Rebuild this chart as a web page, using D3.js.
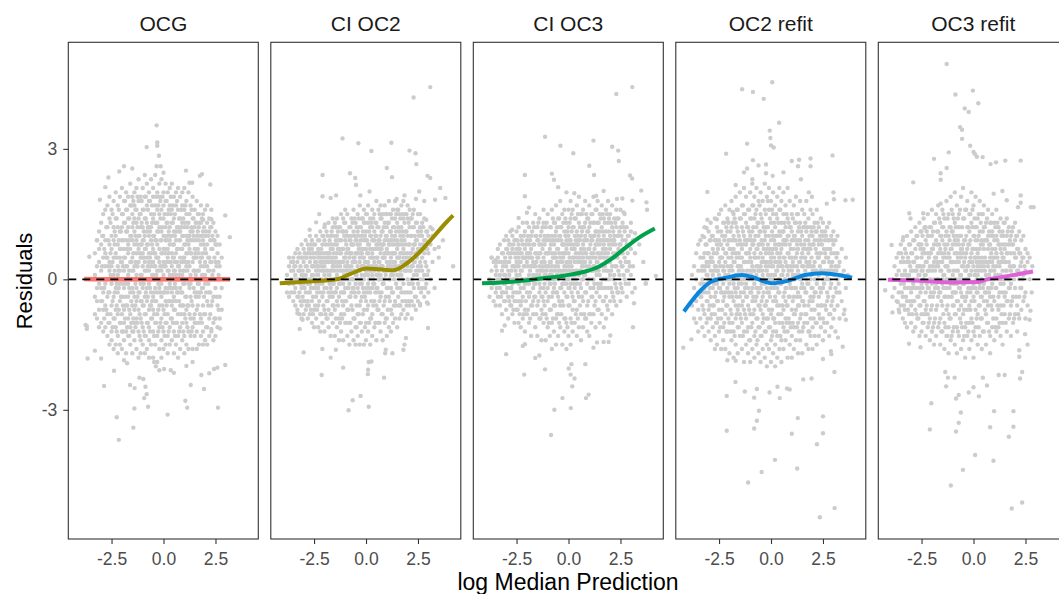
<!DOCTYPE html>
<html>
<head>
<meta charset="utf-8">
<script src="https://cdn.jsdelivr.net/npm/d3@7"></script>
<style>
  html, body { margin: 0; padding: 0; background: #fff; }
  svg { display: block; font-family: "Liberation Sans", Arial, Helvetica, sans-serif; }
</style>
</head>
<body>
<svg id="chart" width="1059" height="594"></svg>
<script>
// ---------------- DATA ----------------
const categories = ["OCG", "CI OC2", "CI OC3", "OC2 refit", "OC3 refit"];
const lineColors = ["#F8766D", "#9A8E00", "#00A14B", "#0A86DE", "#E062D8"];
const xTickValues = [-2.5, 0, 2.5];
const xTickLabels = ["-2.5", "0.0", "2.5"];
const yTickValues = [-3, 0, 3];
const yTickLabels = ["-3", "0", "3"];
const xTitle = "log Median Prediction";
const yTitle = "Residuals";

// dense cloud: [x, [residuals at that x]]
const ocgCols = [
[-3.3,[0.6,-0.4,0.1,-0.8]],[-3.2,[0.9,-0.2,0.3,-0.9,-0.5]],[-3.1,[1.1,0.4,-0.1,-0.7,0.7,-1.1]],
[-3.0,[1.3,0.2,-0.5,0.8,-1.0,-0.2]],[-2.9,[1.0,-0.3,0.5,-1.2,1.5,0.0,-0.7]],[-2.8,[1.6,0.3,-0.6,0.9,-1.1,-0.1,0.6]],
[-2.7,[1.2,-0.4,0.0,1.7,-1.3,0.5,-0.8]],[-2.6,[0.8,-1.0,1.4,0.2,-0.3,-1.5,0.4,1.9]],[-2.5,[1.6,-0.6,0.3,-1.2,1.0,-0.1,0.7,-1.4]],
[-2.4,[0.5,1.8,-0.9,0.1,-0.4,1.2,-1.6,0.9]],[-2.3,[1.4,-0.2,0.6,-1.1,2.0,0.0,-0.7,1.0,-1.5]],[-2.2,[0.3,-0.8,1.7,-0.3,0.8,-1.3,1.2,0.1,-1.7]],
[-2.1,[1.9,0.5,-0.5,1.1,-1.0,0.2,-1.5,0.7,-0.1]],[-2.0,[0.9,-0.4,1.5,0.0,-1.2,2.1,0.4,-0.8,1.2,-1.6]],[-1.9,[0.2,1.3,-0.7,0.7,-1.4,1.8,-0.2,0.5,-1.0]],
[-1.8,[1.6,-0.1,0.9,-1.2,0.3,-0.6,2.0,1.1,-1.7,0.0]],[-1.7,[0.6,-0.9,1.4,0.1,-0.4,1.9,-1.3,0.8,-0.1,1.2]],[-1.6,[1.0,-0.3,0.4,-1.5,1.7,-0.8,0.0,2.2,0.7,-1.1]],
[-1.5,[0.2,1.5,-0.6,0.9,-1.2,0.5,-0.2,1.9,-1.7,1.2,0.0]],[-1.4,[1.1,-1.0,0.3,1.7,-0.4,0.8,-1.4,2.0,0.0,-0.7,1.4]],[-1.3,[0.6,-0.2,1.3,-0.9,0.1,2.1,-1.6,0.9,-0.5,1.6,0.3]],
[-1.2,[1.8,0.4,-0.7,1.0,-1.2,0.0,0.7,-0.3,1.4,-1.8,2.3]],[-1.1,[0.1,1.2,-0.5,0.8,-1.4,1.9,-0.1,0.5,-0.9,1.5,-1.7]],[-1.0,[0.9,-0.2,1.6,-1.1,0.3,2.1,-0.6,1.2,-1.5,0.6,0.0]],
[-0.9,[1.4,0.2,-0.8,0.7,-1.3,1.9,-0.4,1.0,0.4,-1.7,2.4]],[-0.8,[0.5,-0.5,1.1,-1.0,0.0,1.7,-1.6,0.8,-0.2,2.2,1.3]],[-0.7,[1.2,-0.1,0.6,-1.4,1.8,0.2,-0.7,1.0,-1.1,0.4,2.0,-1.8]],
[-0.6,[0.3,1.5,-0.9,0.9,-0.3,2.3,-1.5,0.6,1.2,-0.6,0.0]],[-0.5,[1.0,-0.4,1.9,0.4,-1.2,0.7,-0.7,1.4,-1.8,0.1,2.1]],[-0.4,[0.6,-1.0,1.3,0.0,2.4,-0.5,0.9,-1.5,1.7,0.3,-0.2]],
[-0.3,[1.6,0.2,-0.8,1.1,-1.3,0.5,2.0,-0.3,0.8,-1.9,1.3]],[-0.2,[0.0,1.2,-0.6,0.7,-1.1,1.9,0.4,-1.6,1.5,-0.2,2.2]],[-0.1,[0.9,-0.4,1.6,0.2,-1.4,0.6,-0.9,2.3,1.1,-0.1,-1.8]],
[0.0,[0.4,1.4,-0.7,1.0,-1.2,0.1,2.0,-0.3,0.7,-1.6,1.7]],[0.1,[1.2,-0.2,0.6,-1.0,1.8,0.0,-1.5,0.9,2.2,-0.5,0.3]],[0.2,[0.7,-0.8,1.5,0.2,-1.3,1.0,-0.3,2.0,0.5,-1.7,1.3]],
[0.3,[1.7,0.1,-0.5,0.8,-1.1,1.2,-0.1,0.4,-1.5,2.1,0.9]],[0.4,[0.3,1.0,-0.9,1.6,-0.3,0.6,-1.4,2.2,0.0,1.3,-0.6]],[0.5,[1.4,-0.2,0.8,-1.2,0.2,1.9,-0.7,0.5,-1.7,1.1,-0.4]],
[0.6,[0.6,1.7,-0.5,1.1,-1.0,0.1,2.0,-1.5,0.9,-0.2,0.4]],[0.7,[1.2,-0.8,0.3,1.6,-0.3,0.7,-1.3,2.1,0.0,-1.8]],[0.8,[0.5,1.4,-0.6,0.9,-1.1,1.9,0.2,-0.2,-1.6,1.1]],
[0.9,[1.0,-0.3,1.7,0.4,-1.0,0.7,-1.4,2.0,-0.6,0.1,1.3]],[1.0,[0.2,1.2,-0.8,0.8,-1.3,1.6,-0.1,0.5,-1.7,2.1]],[1.1,[1.5,-0.4,0.6,-1.0,1.0,0.0,-1.5,1.8,0.3,-0.7]],
[1.2,[0.8,-0.1,1.3,-1.2,0.4,2.0,-0.6,1.0,-1.6]],[1.3,[1.1,0.1,-0.9,1.7,-0.4,0.6,-1.3,0.9,-0.1]],[1.4,[0.4,1.4,-0.6,0.9,-1.1,1.9,0.0,-1.6,1.1]],
[1.5,[1.2,-0.3,0.7,-1.3,1.6,0.2,-0.8,0.5,-1.0]],[1.6,[0.0,1.0,-0.7,1.8,0.5,-1.2,1.3,-0.3,-1.6]],[1.7,[0.9,-0.4,1.5,0.2,-1.0,0.6,-1.5,1.2,-0.1]],
[1.8,[1.3,0.3,-0.9,0.8,-0.3,1.7,-1.3,0.0,0.5]],[1.9,[0.6,-0.6,1.1,-1.2,0.1,1.5,-0.2,0.9,-1.5]],[2.0,[1.0,-0.1,0.4,-0.8,1.6,-1.4,0.7,0.1]],
[2.1,[0.3,1.3,-0.5,0.8,-1.1,0.0,1.7,-1.5]],[2.2,[1.1,-0.3,0.5,-0.9,1.4,0.2,-1.3]],[2.3,[0.7,-0.6,1.2,0.0,-1.2,0.4,1.6]],
[2.4,[0.2,-0.4,0.9,-1.0,1.3,-1.4]],[2.5,[0.8,-0.2,0.4,-0.9,1.1,-1.3]],[2.6,[0.0,0.6,-0.6,1.0,-1.1]],
[2.7,[0.3,-0.4,0.8,-0.9]],[2.8,[-0.2,0.5,-0.7]]
];
const ocgFill = [
[-2.95,[0.3,-0.5,1.0]],[-2.85,[-0.2,0.7,-0.9]],[-2.75,[0.5,-0.7,1.2,0.0]],[-2.65,[-0.3,0.9,0.3,-1.0]],[-2.55,[1.3,0.1,-0.8,0.6]],[-2.45,[-0.5,0.4,1.5,-1.1,0.0]],[-2.35,[0.8,-0.3,1.1,-0.9,0.2]],[-2.25,[-0.1,1.4,0.5,-1.2,-0.6]],[-2.15,[0.9,-0.7,0.2,1.6,-0.2]],[-2.05,[0.4,-1.0,1.1,-0.4,0.7]],
[-1.95,[1.5,-0.1,0.9,-1.2,0.3,-0.6]],[-1.85,[0.5,-0.9,1.3,0.0,-0.4,1.8]],[-1.75,[-0.6,0.3,1.1,-1.1,0.7,1.6]],[-1.65,[0.9,-0.2,1.4,-0.7,0.2,-1.3]],[-1.55,[0.4,1.7,-0.5,1.0,-1.0,0.0]],[-1.45,[-0.3,0.6,1.3,-0.9,0.2,1.8,-1.2]],[-1.35,[1.0,-0.6,0.4,1.6,-0.1,-1.1]],[-1.25,[0.3,1.2,-0.4,0.8,-1.0,1.9,0.0]],[-1.15,[-0.8,0.6,1.5,0.0,-0.3,1.0,-1.3]],[-1.05,[0.5,-0.5,1.3,0.1,1.8,-1.0,0.8]],
[-0.95,[1.1,-0.1,0.5,-1.2,0.9,-0.6,1.6]],[-0.85,[0.2,1.4,-0.8,0.7,-0.3,1.9,-1.3]],[-0.75,[0.8,-0.4,1.6,0.3,-1.0,1.2,0.0]],[-0.65,[-0.2,0.5,1.1,-1.2,1.8,0.0,-0.6]],[-0.55,[1.3,0.1,-0.5,0.8,-0.9,1.7,0.4]],[-0.45,[0.3,1.5,-0.8,1.0,-0.3,0.6,-1.3]],[-0.35,[0.9,-0.5,1.9,0.1,-1.0,1.3,0.5]],[-0.25,[-0.1,1.1,0.5,-0.7,1.7,-1.2,0.2]],[-0.15,[1.4,0.3,-0.3,0.9,-1.0,1.8,0.0]],[-0.05,[0.6,-0.6,1.2,0.0,1.9,-1.1,0.3]],
[0.05,[1.0,-0.3,0.3,1.5,-0.8,0.7,-1.3]],[0.15,[0.0,1.3,-0.6,0.9,-1.0,1.8,0.4]],[0.25,[1.1,-0.2,0.6,-1.2,1.6,0.2,-0.5]],[0.35,[0.4,1.5,-0.9,1.0,-0.2,0.0,1.9]],[0.45,[0.8,-0.5,1.3,0.1,-1.0,1.7,0.5]],[0.55,[-0.1,1.0,0.4,-0.7,1.5,-1.3,0.2]],[0.65,[1.2,-0.3,0.7,-1.0,1.8,0.0,0.4]],[0.75,[0.3,1.4,-0.5,0.9,-1.2,0.1,1.1]],[0.85,[0.7,-0.8,1.2,0.0,1.6,-0.3,0.4]],[0.95,[1.0,-0.1,0.5,-1.2,1.4,0.2,-0.6]],
[1.05,[0.4,1.3,-0.4,0.8,-0.9,1.7,0.0]],[1.15,[0.9,-0.6,1.2,0.2,-1.1,0.6]],[1.25,[-0.2,0.7,1.5,-0.8,0.3,1.0]],[1.35,[1.2,0.0,-0.5,0.6,-1.2,1.6]],[1.45,[0.5,-0.9,1.0,-0.2,0.2,1.4]],[1.55,[0.9,-0.4,1.3,0.1,-1.0,0.6]],[1.65,[0.2,1.1,-0.6,0.7,-0.1,1.5]],[1.75,[1.0,-0.8,0.4,1.3,-0.3]],[1.85,[0.5,-0.2,1.0,-1.0,0.1,1.4]],[1.95,[-0.4,0.8,0.3,1.2,-0.8]],
[2.05,[0.6,-0.3,1.1,0.0,-1.1]],[2.15,[0.2,1.0,-0.6,0.5,-0.1]],[2.25,[0.9,-0.8,0.4,1.2,-0.3]],[2.35,[0.1,-0.5,0.7,1.0]],[2.45,[0.5,-0.9,0.0,0.9]],[2.55,[-0.4,0.3,0.8]],[2.65,[0.4,-0.7,0.1]]
];
const oc2Cols = [
[-3.8,[0.1,-0.3]],[-3.7,[0.3,-0.1,-0.4]],[-3.6,[0.4,0.0,-0.3,0.2]],[-3.5,[0.2,-0.5,0.5,-0.1]],
[-3.4,[0.6,-0.2,0.1,-0.6,0.3]],[-3.3,[-0.4,0.4,0.0,0.7,-0.7]],[-3.2,[0.2,-0.3,0.6,-0.8,0.0]],[-3.1,[0.5,-0.6,0.1,0.8,-0.2,-0.9]],
[-3.0,[-0.1,0.4,-0.5,0.7,0.0,-0.8]],[-2.9,[0.3,-0.3,0.9,-0.7,0.1,0.5]],[-2.8,[0.6,-0.1,-0.9,0.2,0.8,-0.5]],[-2.7,[-0.3,0.4,0.0,1.0,-0.8,0.6,-0.1]],
[-2.6,[0.1,0.7,-0.5,0.3,-1.0,0.9,-0.2]],[-2.5,[0.5,-0.2,0.8,-0.7,0.0,-1.1,0.3]],[-2.4,[-0.4,0.2,1.0,-0.9,0.6,-0.1,0.4]],[-2.3,[0.7,-0.6,0.1,0.9,-1.1,0.3,-0.2,0.5]],
[-2.2,[0.0,0.6,-0.8,1.1,-0.3,0.4,-1.2]],[-2.1,[0.4,-0.4,0.8,-1.0,0.2,1.0,-0.1]],[-2.0,[-0.2,0.9,0.1,-0.7,0.5,-1.2,0.3,1.2]],[-1.9,[0.6,-0.5,0.2,1.1,-0.9,0.0,0.4,-0.2]],
[-1.8,[0.1,0.8,-1.1,0.4,-0.3,1.3,-0.7,0.6]],[-1.7,[0.5,-0.2,1.0,-0.8,0.2,-1.3,0.7,0.0]],[-1.6,[-0.4,0.3,1.2,-0.1,0.7,-1.0,0.5,-0.6,1.4]],[-1.5,[0.8,0.0,-0.7,0.4,1.3,-1.3,0.2,-0.3]],
[-1.4,[0.3,1.0,-0.5,0.6,-1.1,0.1,1.4,-0.2,0.8]],[-1.3,[-0.1,0.7,-0.9,0.4,1.2,-0.4,0.0,-1.4,0.9]],[-1.2,[0.6,-0.3,1.5,0.2,-0.8,0.9,-1.2,0.4,0.0]],[-1.1,[0.2,1.1,-0.6,0.7,-0.1,-1.4,1.4,0.4,-0.3]],
[-1.0,[0.9,-0.2,0.3,-1.0,1.3,0.5,-0.5,0.0,1.6]],[-0.9,[0.4,-0.7,1.0,0.1,-1.3,0.7,-0.2,1.5,0.3]],[-0.8,[-0.4,0.6,1.2,-1.0,0.2,0.9,-0.1,-1.5,0.5]],[-0.7,[0.8,0.0,-0.6,1.4,0.3,-1.2,0.6,-0.3,1.0]],
[-0.6,[0.2,1.1,-0.9,0.5,-0.2,1.6,0.0,-1.4,0.8,0.4]],[-0.5,[0.6,-0.4,1.3,0.1,-1.1,0.9,-0.1,0.4,-1.5,1.0]],[-0.4,[-0.2,0.8,0.3,-0.8,1.5,0.0,-1.3,0.6,1.1]],[-0.3,[0.5,-0.6,1.2,0.2,-1.0,0.8,-0.1,1.7,0.4,-1.5]],
[-0.2,[1.0,0.1,-0.4,0.7,-1.2,1.4,0.3,-0.1,0.6]],[-0.1,[0.3,1.3,-0.7,0.5,-1.5,0.9,0.0,-0.3,1.6,0.7]],[0.0,[0.7,-0.2,1.1,0.2,-1.0,1.5,-0.5,0.4,-1.4,0.9]],[0.1,[0.1,0.8,-0.6,1.3,0.4,-1.2,0.6,-0.1,1.7,0.3]],
[0.2,[0.5,1.0,-0.3,0.2,-0.9,1.4,0.7,-1.5,0.0,1.2]],[0.3,[1.2,0.3,-0.8,0.6,-0.2,1.6,0.9,-1.3,0.1,0.5]],[0.4,[0.4,-0.5,1.1,0.7,-1.1,0.2,1.5,-0.1,0.9]],[0.5,[0.8,0.1,1.3,-0.6,0.5,-1.4,1.8,0.3,-0.2,1.0]],
[0.6,[0.2,1.2,-0.3,0.7,-1.0,0.4,1.6,0.0,-0.7,0.9]],[0.7,[1.0,-0.4,0.6,1.4,0.1,-1.2,0.8,0.3,1.7]],[0.8,[0.5,-0.1,1.1,-0.8,0.3,1.5,0.8,-1.4,0.0]],[0.9,[1.3,0.2,-0.5,0.9,0.5,-1.0,1.7,0.0,0.6]],
[1.0,[0.4,1.0,-0.2,0.7,-0.9,1.5,0.2,-1.3,1.2]],[1.1,[0.8,-0.4,1.3,0.3,-1.1,0.6,1.8,0.0]],[1.2,[0.1,0.9,-0.7,1.5,0.5,-0.2,1.1,-1.2,0.3]],[1.3,[1.2,0.4,-0.3,0.8,-1.0,1.6,0.1,0.6]],
[1.4,[0.6,1.4,-0.5,0.2,1.0,-0.9,0.4,1.8]],[1.5,[0.9,0.1,-0.2,1.3,0.5,-1.1,0.7,1.6]],[1.6,[0.3,1.1,-0.6,0.8,1.5,0.0,-0.9,0.5]],[1.7,[1.2,0.4,-0.3,0.9,1.7,-0.8,0.1,0.6]],
[1.8,[0.7,-0.1,1.4,0.3,-0.7,1.0,0.5,1.8]],[1.9,[0.2,1.1,-0.5,0.8,1.5,-0.9,0.4]],[2.0,[1.0,0.3,-0.3,1.4,0.6,-0.8,0.0,1.7]],[2.1,[0.5,1.2,-0.1,0.8,-0.6,1.6,0.2]],
[2.2,[1.0,0.0,0.6,-0.5,1.4,0.3,-0.9]],[2.3,[0.4,1.2,-0.2,0.8,1.6,-0.6,0.1]],[2.4,[0.9,0.2,-0.4,1.3,0.6,-0.7]],[2.5,[0.3,1.1,-0.1,0.7,1.5,-0.5]],
[2.6,[0.8,0.0,1.2,0.4,-0.6,1.5]],[2.7,[0.5,1.0,-0.2,0.2,1.3]],[2.8,[0.9,0.1,-0.4,0.6,1.4]],[2.9,[0.3,1.1,-0.1,0.7]],
[3.0,[0.6,-0.3,1.0,0.2]],[3.1,[0.8,0.0,1.2]],[3.2,[0.4,1.0]],[3.3,[0.7,-0.2]],[3.5,[0.5]],[3.7,[0.9]]
];
const oc2Fill = [
[-3.45,[0.0,0.3,-0.3]],[-3.25,[0.2,-0.4,0.5]],[-3.15,[-0.1,0.3,-0.5]],[-3.05,[0.5,0.0,-0.4,0.2]],[-2.95,[-0.2,0.6,0.1,-0.5]],[-2.85,[0.3,-0.6,0.5,0.0]],[-2.75,[0.7,-0.3,0.2,-0.6]],[-2.65,[0.0,0.5,-0.7,0.8,-0.2]],[-2.55,[0.3,-0.4,0.6,0.1,-0.8]],[-2.45,[0.8,-0.2,0.4,-0.6,0.0]],
[-2.35,[0.1,0.6,-0.7,0.3,-0.3]],[-2.25,[0.9,-0.5,0.2,0.6,-0.1]],[-2.15,[0.3,-0.8,0.7,0.0,0.5]],[-2.05,[0.6,-0.3,1.0,0.2,-0.6]],[-1.95,[0.0,0.8,-0.8,0.4,-0.2]],[-1.85,[0.5,-0.5,1.0,0.2,-0.9]],[-1.75,[0.9,0.1,-0.4,0.6,-0.1]],[-1.65,[0.2,-0.8,0.8,0.4,1.1,-0.3]],[-1.55,[0.6,-0.1,1.0,-0.6,0.3]],[-1.45,[0.0,0.9,-0.9,0.5,-0.3,1.2]],
[-1.35,[0.4,-0.6,1.1,0.2,0.7]],[-1.25,[0.9,-0.1,0.3,-1.0,0.6,1.2]],[-1.15,[0.0,0.7,-0.5,1.1,0.4,-0.9]],[-1.05,[0.5,-0.3,1.0,0.1,-0.8,1.3]],[-0.95,[0.8,0.2,-0.5,0.6,-1.0,1.1]],[-0.85,[0.3,1.0,-0.2,0.7,-0.7,0.0]],[-0.75,[0.6,-0.4,1.2,0.2,-1.0,0.9]],[-0.65,[0.0,0.8,-0.7,1.3,0.4,-0.2]],[-0.55,[0.5,-0.9,1.0,0.2,-0.3,1.4]],[-0.45,[0.9,0.1,-0.6,0.6,1.2,-1.1]],
[-0.35,[0.2,1.0,-0.3,0.7,-0.8,1.4]],[-0.25,[0.6,-0.5,1.2,0.0,0.9,-1.0]],[-0.15,[1.1,0.3,-0.8,0.5,-0.2,1.4]],[-0.05,[0.4,-0.4,1.0,0.1,1.3,-1.1]],[0.05,[0.9,0.2,-0.7,0.6,-0.3,1.5]],[0.15,[0.3,1.1,-0.2,0.8,-1.0,0.0]],[0.25,[0.7,-0.5,1.3,0.2,-0.9,1.0]],[0.35,[0.0,0.9,0.5,-0.6,1.4,-0.1]],[0.45,[1.0,0.3,-0.3,0.7,-1.0,1.3]],[0.55,[0.5,-0.7,1.2,0.1,0.8,-0.2]],
[0.65,[0.9,0.0,1.5,-0.5,0.4,-1.0]],[0.75,[0.3,1.1,-0.3,0.7,1.4,-0.8]],[0.85,[0.8,-0.6,1.2,0.2,0.5,-0.1]],[0.95,[0.1,1.0,-0.4,1.5,0.6,-0.9]],[1.05,[0.9,0.3,-0.2,1.3,-0.7,0.6]],[1.15,[0.4,1.1,-0.5,0.8,0.0,1.5]],[1.25,[1.0,-0.3,0.6,1.4,0.2,-0.8]],[1.35,[0.3,0.9,-0.6,1.2,0.6,0.0]],[1.45,[0.8,-0.1,1.5,0.3,-0.6,1.1]],[1.55,[0.5,1.2,-0.4,0.8,0.1,1.6]],
[1.65,[1.0,0.2,-0.2,1.4,0.6,-0.6]],[1.75,[0.4,1.1,-0.5,0.8,0.0,1.5]],[1.85,[0.9,0.2,1.3,-0.3,0.6]],[1.95,[0.5,1.1,-0.6,0.2,1.5]],[2.05,[0.8,-0.1,1.3,0.4,-0.5]],[2.15,[0.2,1.0,0.6,-0.3,1.4]],[2.25,[0.7,-0.1,1.2,0.3,1.5]],[2.35,[0.4,1.0,-0.4,0.8]],[2.45,[0.9,0.1,1.3,0.5]],[2.55,[0.6,-0.2,1.0,0.2]],
[2.65,[0.3,1.1,0.7,-0.3]],[2.75,[0.8,0.0,1.2]],[2.85,[0.4,0.9,-0.2]],[2.95,[0.7,0.1,1.1]]
];
const oc3Cols = [
[-3.8,[0.0,-0.4]],[-3.7,[0.2,-0.2,0.5]],[-3.6,[-0.1,0.4,-0.5]],[-3.5,[0.3,-0.3,0.1,-0.6]],
[-3.4,[0.5,0.0,-0.4,0.7]],[-3.3,[0.1,-0.6,0.4,-0.2,0.8]],[-3.2,[-0.3,0.6,0.2,-0.8]],[-3.1,[0.4,-0.1,0.9,-0.5,0.1]],
[-3.0,[0.7,-0.7,0.0,0.3,-0.3,1.0]],[-2.9,[0.2,-0.4,0.6,-0.9,0.9]],[-2.8,[-0.2,0.5,0.0,-0.6,0.8,1.1]],[-2.7,[0.3,-0.8,0.7,-0.1,1.0,-0.4]],
[-2.6,[0.6,0.0,-0.5,0.9,-1.0,0.3]],[-2.5,[-0.3,0.4,1.1,-0.7,0.1,0.7]],[-2.4,[0.8,-0.1,0.3,-1.0,0.5,-0.5,1.2]],[-2.3,[0.2,-0.6,1.0,-0.2,0.6,-1.1,0.4]],
[-2.2,[0.5,1.3,-0.4,0.0,-0.9,0.8]],[-2.1,[-0.1,0.7,-0.7,0.3,1.1,-1.2,0.5]],[-2.0,[0.4,-0.3,0.9,0.0,-0.8,1.3,0.6]],[-1.9,[0.1,0.8,-1.0,0.5,-0.4,1.2,-0.1]],
[-1.8,[0.7,-0.6,0.3,1.0,-1.3,0.0,0.5]],[-1.7,[-0.2,0.4,1.3,-0.8,0.8,0.1,-0.5]],[-1.6,[0.6,-0.1,1.0,-1.1,0.3,-0.4,1.5]],[-1.5,[0.2,0.9,-0.6,0.5,-1.3,1.2,0.0]],
[-1.4,[0.8,-0.3,0.3,1.4,-0.9,0.6,-0.1,0.1]],[-1.3,[0.0,1.1,-0.7,0.4,-1.4,0.8,0.2,-0.4]],[-1.2,[0.5,-0.2,1.3,-1.0,0.2,0.9,-0.5,1.6]],[-1.1,[0.9,0.1,-0.8,0.6,-0.3,1.2,-1.4,0.3]],
[-1.0,[0.3,-0.5,1.0,0.0,1.5,-1.1,0.6,-0.2]],[-0.9,[0.7,-0.1,0.4,-1.3,1.2,0.1,-0.7,0.9]],[-0.8,[0.1,1.0,-0.4,0.6,-1.0,1.6,0.3,-1.6]],[-0.7,[0.5,-0.6,1.3,0.0,0.8,-1.2,0.2,-0.2]],
[-0.6,[0.9,0.2,-0.3,1.1,-0.9,0.5,1.7,-1.5]],[-0.5,[0.3,-0.8,0.7,0.0,1.4,-0.4,0.9,-1.3,0.4]],[-0.4,[1.0,-0.2,0.5,-1.1,1.2,0.2,-0.6,1.8]],[-0.3,[0.4,0.8,-0.5,1.5,-0.1,-1.5,0.6,0.1]],
[-0.2,[0.0,1.1,-0.9,0.6,0.3,-0.3,1.6,-1.2,0.8]],[-0.1,[0.7,-0.4,1.3,0.2,-1.0,0.9,-0.1,0.4,-1.6]],[0.0,[0.3,1.0,-0.6,1.6,0.0,-1.3,0.6,-0.2,1.2]],[0.1,[0.8,-0.1,0.4,-0.9,1.4,0.1,-1.5,0.9,1.8]],
[0.2,[0.2,1.2,-0.4,0.7,-1.2,0.0,1.6,0.5,-0.7]],[0.3,[1.0,0.4,-0.2,1.4,-1.0,0.7,-0.5,0.1]],[0.4,[0.5,-0.7,1.1,0.2,1.7,-1.3,0.8,-0.1]],[0.5,[0.1,0.9,-0.4,1.3,0.4,-1.1,0.6,1.9]],
[0.6,[0.7,-0.2,1.5,0.2,-0.8,1.0,-1.4,0.4]],[0.7,[1.2,0.3,-0.5,0.8,0.0,1.6,-1.1,0.5]],[0.8,[0.4,1.0,-0.3,1.8,-0.9,0.6,0.1,1.3]],[0.9,[0.9,-0.1,0.5,1.4,-1.2,0.2,-0.6,1.1]],
[1.0,[0.3,1.2,-0.8,0.7,1.7,0.0,-1.3,0.5]],[1.1,[1.0,0.2,-0.4,1.5,0.6,-1.0,0.9]],[1.2,[0.6,1.3,-0.2,0.3,1.9,-0.8,0.0,1.0]],[1.3,[1.1,-0.5,0.5,1.6,0.2,-1.1,0.8]],
[1.4,[0.4,0.9,-0.1,1.3,-0.7,1.8,0.6]],[1.5,[0.8,0.1,1.5,-0.4,0.5,-1.0,1.1]],[1.6,[1.2,0.3,-0.2,0.9,1.7,-0.8,0.6]],[1.7,[0.5,1.4,-0.5,0.2,1.0,-1.1,0.8]],
[1.8,[1.1,0.0,0.7,1.6,-0.4,0.4,-0.9]],[1.9,[0.6,1.3,-0.2,0.9,0.2,-0.7,1.8]],[2.0,[1.0,0.4,-0.5,1.5,0.1,0.7]],[2.1,[0.3,1.2,-0.3,0.8,1.7,-0.8]],
[2.2,[0.9,0.1,1.4,0.5,-0.5,1.0]],[2.3,[0.6,-0.2,1.2,0.3,1.6,-0.6]],[2.4,[1.0,0.2,-0.3,0.7,1.4]],[2.5,[0.4,1.2,-0.1,0.8,-0.5,1.6]],
[2.6,[0.9,0.3,1.3,-0.3,0.6]],[2.7,[0.5,1.1,0.0,1.5]],[2.8,[0.8,0.2,-0.4,1.2]],[2.9,[0.4,1.0,-0.1]],
[3.0,[0.7,1.3,0.1]],[3.1,[0.3,0.9]],[3.2,[0.6,-0.2]],[3.4,[0.8]],[3.6,[0.4]]
];
const oc3Fill = [
[-3.45,[0.2,-0.2,0.4]],[-3.25,[0.0,0.4,-0.4]],[-3.15,[0.3,-0.3,0.6]],[-3.05,[-0.1,0.5,0.1,-0.5]],[-2.95,[0.4,-0.2,0.7,0.0]],[-2.85,[0.1,-0.5,0.4,0.8]],[-2.75,[0.6,-0.2,0.2,-0.6]],[-2.65,[0.3,0.8,-0.3,0.0,-0.7]],[-2.55,[0.5,-0.5,0.9,0.2]],[-2.45,[0.0,0.6,-0.7,0.3,0.9]],
[-2.35,[0.7,-0.3,0.4,-0.8,0.1]],[-2.25,[0.2,0.9,-0.5,0.6,0.0]],[-2.15,[0.5,-0.2,1.0,-0.8,0.3]],[-2.05,[0.8,0.0,-0.5,0.5,-0.1]],[-1.95,[0.3,1.0,-0.7,0.6,0.0]],[-1.85,[0.6,-0.3,0.9,-0.9,0.2]],[-1.75,[0.0,0.5,1.1,-0.6,0.3]],[-1.65,[0.8,-0.4,0.3,1.2,-0.1]],[-1.55,[0.4,-0.8,1.0,0.1,0.6]],[-1.45,[0.9,0.0,-0.5,0.5,1.3]],
[-1.35,[0.2,1.0,-0.9,0.6,-0.2]],[-1.25,[0.7,-0.4,1.2,0.3,-0.8]],[-1.15,[0.1,0.8,-0.6,1.0,0.4,-0.1]],[-1.05,[0.6,-0.9,1.3,0.2,0.9]],[-0.95,[1.0,0.3,-0.4,0.6,-1.0,0.0]],[-0.85,[0.4,1.2,-0.7,0.8,-0.1,0.2]],[-0.75,[0.9,-0.3,0.5,1.4,-0.9,0.0]],[-0.65,[0.3,-0.6,1.0,0.6,-0.1,1.3]],[-0.55,[0.7,0.1,-0.8,1.2,0.4,-0.3]],[-0.45,[0.2,1.0,-0.5,0.6,1.4,-1.0]],
[-0.35,[0.9,-0.2,0.4,1.2,-0.8,0.1]],[-0.25,[0.5,1.3,-0.6,0.8,-0.1,0.2]],[-0.15,[1.0,0.0,-0.9,0.6,1.4,0.3]],[-0.05,[0.4,-0.4,1.1,0.8,-1.1,0.1]],[0.05,[0.9,0.2,-0.6,1.3,0.5,-0.2]],[0.15,[0.3,1.1,-0.3,0.7,-1.0,1.5]],[0.25,[0.8,-0.5,1.2,0.1,0.5,-0.1]],[0.35,[0.2,0.9,-0.8,1.4,0.6,0.0]],[0.45,[1.0,0.4,-0.3,0.8,-0.9,1.5]],[0.55,[0.5,1.2,-0.6,0.2,0.9,-0.1]],
[0.65,[1.1,0.0,0.6,1.5,-0.4,0.3]],[0.75,[0.4,0.9,-0.8,1.2,0.1,0.7]],[0.85,[0.9,0.3,-0.3,1.5,0.6,-0.9]],[0.95,[0.2,1.1,-0.5,0.7,1.4,0.0]],[1.05,[0.8,-0.2,1.3,0.4,-0.8,1.0]],[1.15,[0.5,1.5,0.0,0.9,-0.4,0.2]],[1.25,[1.0,0.3,-0.6,1.3,0.7,-0.1]],[1.35,[0.4,1.1,-0.3,0.8,1.6,0.1]],[1.45,[1.0,0.2,-0.7,0.6,1.3,-0.2]],[1.55,[0.5,1.4,-0.1,0.9,0.3]],
[1.65,[1.1,0.0,0.7,-0.5,1.5]],[1.75,[0.3,0.9,1.3,-0.2,0.6]],[1.85,[0.9,0.2,1.5,-0.6,0.5]],[1.95,[0.4,1.1,0.0,0.8,1.4]],[2.05,[0.9,-0.2,0.5,1.3,0.2]],[2.15,[0.6,1.1,-0.4,0.9,0.0]],[2.25,[0.3,1.3,0.8,-0.1]],[2.35,[1.0,0.5,-0.3,1.4]],[2.45,[0.6,0.1,1.1,0.8]],[2.55,[0.3,1.0,-0.2,0.6]],
[2.65,[0.7,0.1,1.2]],[2.75,[0.4,0.9,-0.1]],[2.85,[0.6,1.0,0.2]],[2.95,[0.3,0.8]]
];
const oc2rCols = [
[-3.8,[-0.6,0.1]],[-3.7,[0.3,-0.9,-0.2]],[-3.6,[-0.5,0.6,0.0,-1.0]],[-3.5,[0.2,-0.7,0.8,-0.3,-1.2]],
[-3.4,[-0.1,0.5,-0.9,0.9,-0.4]],[-3.3,[0.3,-0.6,1.0,-1.1,0.0,-0.3]],[-3.2,[-0.8,0.6,-0.2,1.2,-1.3,0.2]],[-3.1,[0.1,-0.5,0.8,-1.0,0.4,-0.1]],
[-3.0,[-0.3,1.1,0.0,-1.2,0.6,-0.7,0.3]],[-2.9,[0.5,-0.9,0.2,1.3,-0.4,-1.4,0.9]],[-2.8,[-0.2,0.7,-1.1,0.1,1.0,-0.6,0.4]],[-2.7,[0.9,-0.4,0.3,-1.3,1.4,0.0,-0.8]],
[-2.6,[-0.1,0.6,-1.0,1.2,0.2,-0.5,-1.5,0.8]],[-2.5,[0.4,-0.7,1.5,-0.2,0.9,-1.2,0.1]],[-2.4,[1.1,0.0,-0.9,0.5,-1.6,0.8,-0.3,1.6]],[-2.3,[-0.5,0.3,1.3,-1.1,0.7,-0.1,-1.4,0.2]],
[-2.2,[0.6,-0.3,1.0,-0.8,1.7,0.1,-1.6,0.4]],[-2.1,[0.0,1.4,-0.6,0.8,-1.2,0.3,-0.2,1.1]],[-2.0,[0.7,-1.0,0.2,1.6,-0.4,-1.7,0.9,-0.1]],[-1.9,[-0.3,0.5,1.2,-0.8,0.0,1.8,-1.4,0.3]],
[-1.8,[1.0,-0.5,0.4,-1.2,1.5,-0.1,0.7,-1.8]],[-1.7,[0.1,1.3,-0.9,0.6,-0.3,1.9,-1.5,0.9,-0.6]],[-1.6,[0.8,-0.2,1.1,-1.1,0.3,1.6,-0.7,-1.7,0.0]],[-1.5,[-0.4,0.5,1.4,-1.3,0.9,0.0,-0.8,2.0,0.3]],
[-1.4,[0.2,1.2,-0.6,0.7,-1.6,1.7,-0.1,-1.0,0.5]],[-1.3,[1.0,-0.3,0.4,-1.2,1.5,0.0,-0.7,2.1,-1.9]],[-1.2,[0.6,-0.9,1.3,0.1,-0.4,1.9,-1.5,0.8,-0.1]],[-1.1,[-0.2,0.9,-1.1,0.4,1.6,-0.6,0.1,-1.7,1.2]],
[-1.0,[1.4,0.2,-0.8,0.7,-1.4,2.0,-0.3,0.5,1.0,-1.9]],[-0.9,[0.3,-0.5,1.1,-1.0,0.0,1.7,-1.6,0.8,-0.2,2.2]],[-0.8,[0.9,-0.1,0.5,-1.3,1.4,-0.7,0.2,-1.8,1.9,0.6]],[-0.7,[-0.4,1.2,0.1,-0.9,0.7,-1.5,1.6,0.3,-0.2,2.1]],
[-0.6,[0.5,-1.1,1.0,-0.3,0.2,1.8,-1.7,0.8,-0.6,1.3]],[-0.5,[1.5,0.0,-0.7,0.6,-1.3,1.1,-0.2,2.0,0.3,-1.9]],[-0.4,[0.2,-0.4,1.3,-1.0,0.8,0.1,-1.6,1.8,0.5,-0.8]],[-0.3,[0.9,-0.1,0.4,-1.2,1.6,-0.6,2.2,0.0,-1.8,1.1]],
[-0.2,[-0.5,0.7,1.2,-0.9,0.2,-1.5,1.9,0.4,-0.2,-2.0]],[-0.1,[0.6,-0.3,1.0,-1.1,1.6,0.0,-0.7,2.1,0.3,-1.6]],[0.0,[0.1,1.3,-0.8,0.5,-1.4,0.9,-0.2,1.8,-1.9,0.4]],[0.1,[1.0,-0.5,0.3,-1.2,1.5,0.0,-0.9,2.0,0.7,-1.7]],
[0.2,[-0.1,0.8,-1.0,1.2,0.4,-0.4,1.7,-1.5,0.1,-2.0]],[0.3,[0.6,1.4,-0.6,0.2,-1.3,1.0,-0.2,1.9,-1.8,0.4]],[0.4,[1.1,-0.3,0.5,-1.0,1.6,0.0,-1.6,0.8,-0.6,2.1]],[0.5,[0.3,-0.8,1.3,-0.1,0.7,-1.4,1.8,0.1,-1.9]],
[0.6,[0.9,-0.4,0.2,-1.1,1.5,0.5,-0.7,2.0,-1.6,1.1]],[0.7,[-0.2,1.2,0.4,-0.9,0.8,-1.4,1.7,0.0,-0.5]],[0.8,[0.6,-1.2,1.4,0.1,-0.6,1.0,-1.8,0.3,2.1]],[0.9,[1.2,-0.1,0.5,-1.0,1.8,-0.4,0.0,-1.5,0.8]],
[1.0,[0.2,0.9,-0.7,1.5,-1.3,0.5,-0.2,1.1,-1.8]],[1.1,[1.0,-0.4,0.3,-1.1,1.7,0.7,-0.8,-1.6,0.0]],[1.2,[0.5,1.3,-0.2,-1.4,0.9,0.1,-0.7,1.9]],[1.3,[-0.3,0.7,1.5,-1.0,0.2,-0.6,1.1,-1.7]],
[1.4,[0.9,0.0,-0.9,1.3,0.4,-1.4,1.8,-0.4]],[1.5,[0.3,1.0,-0.5,0.6,-1.2,1.6,-0.1,-1.7]],[1.6,[1.2,-0.2,0.8,-1.0,0.1,1.5,-0.6,0.5]],[1.7,[0.4,-0.8,1.1,-1.5,0.7,-0.3,1.8,0.0]],
[1.8,[0.9,-0.1,0.3,-1.2,1.4,-0.6,0.6,-1.6]],[1.9,[0.0,1.2,-0.9,0.7,-0.4,1.6,0.3,-1.3]],[2.0,[0.8,-0.5,1.0,-1.1,0.2,1.5,-0.2,-1.6]],[2.1,[0.4,1.3,-0.7,0.9,-1.3,0.0,-0.3]],
[2.2,[1.1,-0.1,0.6,-1.0,1.6,0.2,-1.5]],[2.3,[-0.4,0.8,0.1,-0.8,1.2,-1.3,0.5]],[2.4,[0.6,1.4,-0.3,0.2,-1.1,0.9,-0.6]],[2.5,[1.0,-0.2,0.4,-0.9,1.3,-1.4,0.0]],
[2.6,[0.2,0.9,-0.6,0.6,-1.2,1.1]],[2.7,[0.7,-0.3,1.2,-1.0,0.1,-0.5]],[2.8,[0.4,-0.8,0.9,0.0,1.3,-1.3]],[2.9,[-0.1,0.6,-0.6,1.0,0.3,-1.1]],
[3.0,[0.8,-0.4,0.2,-0.9,1.1]],[3.1,[0.3,-0.2,0.9,-1.2]],[3.2,[0.6,-0.6,0.0,1.0]],[3.3,[-0.3,0.4,-0.9]],
[3.4,[0.7,-0.5,0.1]],[3.5,[0.2,-0.8]],[3.6,[-0.2,0.5]],[3.7,[0.1]]
];
const oc2rFill = [
[-3.35,[0.2,-0.4]],[-3.25,[-0.1,0.5,-0.7]],[-3.15,[0.3,-0.3,0.8]],[-3.05,[-0.5,0.1,0.6,-0.9]],[-2.95,[0.4,-0.2,0.9,-0.6]],[-2.85,[0.0,-0.8,0.5,1.0]],[-2.75,[0.6,-0.1,-0.6,0.2]],[-2.65,[-0.3,0.9,0.3,-1.0,0.0]],[-2.55,[0.7,-0.5,0.2,1.1,-0.9]],[-2.45,[0.3,-0.2,0.8,-1.1,0.5]],
[-2.35,[1.0,0.0,-0.7,0.5,-0.3]],[-2.25,[0.2,-1.0,0.9,-0.4,1.3]],[-2.15,[0.6,-0.6,1.2,0.0,-1.2]],[-2.05,[0.1,0.9,-0.3,0.5,-0.9,1.3]],[-1.95,[0.7,-0.7,1.1,0.3,-1.2,0.0]],[-1.85,[0.2,1.3,-0.4,0.6,-1.0,0.9]],[-1.75,[0.9,-0.2,0.4,-1.3,1.4,0.0]],[-1.65,[0.5,-0.8,1.2,0.1,-0.4,1.6]],[-1.55,[1.0,-0.1,0.6,-1.1,0.2,-0.6]],[-1.45,[0.3,1.4,-0.9,0.8,-0.3,0.0]],
[-1.35,[0.8,-0.5,1.1,0.2,-1.3,1.7]],[-1.25,[0.1,0.9,-0.8,1.5,0.4,-0.2]],[-1.15,[0.6,-0.4,1.2,-1.2,0.2,0.9]],[-1.05,[1.1,0.0,-0.7,0.6,1.6,-1.4]],[-0.95,[0.4,-0.3,0.9,-1.1,1.4,0.1]],[-0.85,[0.8,-0.8,0.2,1.2,-0.4,1.7]],[-0.75,[0.0,1.0,-1.2,0.5,-0.5,1.5]],[-0.65,[0.7,-0.2,1.3,-0.9,0.3,-1.4]],[-0.55,[0.2,1.1,-0.6,0.8,-1.1,1.7]],[-0.45,[0.9,-0.1,0.4,-1.3,1.4,-0.5]],
[-0.35,[0.4,1.2,-0.9,0.7,-0.3,0.0]],[-0.25,[1.0,-0.6,0.3,1.5,-1.2,0.6]],[-0.15,[0.1,0.8,-0.3,1.2,-0.9,1.8]],[-0.05,[0.7,-1.1,0.4,1.4,-0.4,0.0]],[0.05,[0.3,1.1,-0.7,0.6,-1.3,1.6]],[0.15,[0.9,-0.2,0.5,-0.9,1.3,0.1]],[0.25,[0.2,1.0,-0.5,0.7,-1.2,1.5]],[0.35,[0.8,-0.8,0.3,1.3,-0.3,0.0]],[0.45,[0.4,-0.1,1.0,-1.3,0.6,1.6]],[0.55,[1.1,0.1,-0.6,0.8,-1.0,0.3]],
[0.65,[0.5,1.3,-0.3,0.0,-1.2,0.9]],[0.75,[0.9,-0.6,0.3,1.5,-0.2,-1.0]],[0.85,[0.2,1.0,-0.9,0.6,-0.4,1.3]],[0.95,[0.7,-0.2,1.2,-1.1,0.3,0.0]],[1.05,[0.4,1.4,-0.5,0.9,-1.0,0.1]],[1.15,[1.0,-0.2,0.5,-0.8,1.3,0.0]],[1.25,[0.3,-1.1,0.8,-0.4,1.5,0.6]],[1.35,[0.9,0.1,-0.6,0.4,-1.2,1.2]],[1.45,[0.5,1.1,-0.2,0.8,-0.8,0.0]],[1.55,[1.2,-0.5,0.3,-1.1,0.7]],
[1.65,[0.2,0.9,-0.8,0.5,-0.3,1.3]],[1.75,[0.7,-0.1,1.2,-1.0,0.3]],[1.85,[0.4,1.0,-0.5,0.8,-1.2]],[1.95,[1.1,0.1,-0.7,0.5,-0.2]],[2.05,[0.3,-0.9,0.8,1.2,-0.4]],[2.15,[0.7,-0.3,0.2,-1.0,1.1]],[2.25,[0.0,0.9,-0.6,0.5,1.3]],[2.35,[0.6,-0.2,1.0,-0.9,0.3]],[2.45,[0.2,-0.6,0.8,1.1]],[2.55,[0.7,-0.1,0.4,-1.0]],
[2.65,[0.0,1.0,-0.7,0.5]],[2.75,[0.5,-0.4,0.9,0.2]],[2.85,[-0.2,0.7,0.2,-0.8]],[2.95,[0.4,-0.5,0.9]],[3.05,[0.1,0.6,-0.7]],[3.15,[0.5,-0.3,0.2]],[3.25,[-0.1,0.3]]
];
const oc3rCols = [
[-3.9,[0.0,-0.4]],[-3.8,[0.3,-0.2]],[-3.7,[-0.5,0.1,0.5]],[-3.6,[0.2,-0.3,0.6,-0.7]],
[-3.5,[-0.1,0.4,-0.6,0.8]],[-3.4,[0.5,-0.4,0.1,-0.9,0.9]],[-3.3,[-0.2,0.7,0.2,-0.7,-1.0]],[-3.2,[0.4,-0.5,1.0,0.0,-1.1]],
[-3.1,[0.1,0.8,-0.8,0.4,-0.2]],[-3.0,[0.6,-0.3,1.1,-1.0,0.2,-0.6]],[-2.9,[-0.1,0.4,-1.2,0.9,0.0,-0.5]],[-2.8,[0.7,-0.7,0.2,1.2,-0.2,-1.1]],
[-2.7,[0.3,-0.4,1.0,-0.9,0.5,0.0]],[-2.6,[-0.6,0.8,0.1,-1.3,1.3,-0.2]],[-2.5,[0.5,-0.1,1.1,-0.8,0.2,-1.2,0.8]],[-2.4,[0.0,0.7,-0.5,1.4,-1.0,0.3]],
[-2.3,[0.9,-0.3,0.4,-1.3,0.1,1.2,-0.7]],[-2.2,[0.2,-0.8,1.0,-0.2,1.5,-1.1,0.6]],[-2.1,[-0.4,0.6,0.0,1.2,-1.4,0.3,-0.9]],[-2.0,[1.0,0.2,-0.6,0.7,-1.2,1.6,-0.1]],
[-1.9,[0.4,-0.3,1.3,-1.0,0.0,0.8,-1.5]],[-1.8,[-0.1,0.9,-0.7,0.3,1.5,-1.3,0.5]],[-1.7,[0.6,-0.4,1.1,0.0,-1.1,1.7,-0.2,0.3]],[-1.6,[0.2,1.3,-0.9,0.7,-0.3,-1.5,1.0]],
[-1.5,[0.9,-0.1,0.4,-1.2,1.6,0.0,-0.6,1.2]],[-1.4,[-0.4,0.6,1.4,-1.0,0.1,-1.6,0.8]],[-1.3,[0.3,1.1,-0.7,0.5,-0.2,1.8,-1.3,0.0]],[-1.2,[1.0,-0.4,0.2,-1.1,1.5,0.6,-0.8,-1.7]],
[-1.1,[0.4,-0.1,1.2,-0.9,0.0,1.9,-1.4,0.7]],[-1.0,[-0.3,0.8,0.1,-1.2,1.5,0.4,-0.6,1.1]],[-0.9,[0.6,-0.8,1.3,0.0,-1.5,0.9,-0.3,2.0]],[-0.8,[0.2,1.0,-0.5,0.6,-1.1,1.7,-0.1,-1.7]],
[-0.7,[1.2,-0.2,0.4,-1.3,0.8,0.0,-0.7,1.5]],[-0.6,[0.5,-0.6,1.0,-1.0,0.1,1.9,-0.3,0.7,-1.6]],[-0.5,[-0.1,0.8,1.4,-0.8,0.3,-1.4,0.6,-0.4,2.1]],[-0.4,[0.9,0.0,-1.1,0.5,1.6,-0.5,-1.8,0.2]],
[-0.3,[0.3,-0.3,1.2,-1.3,0.7,0.0,1.8,-0.7]],[-0.2,[1.1,-0.6,0.4,-1.0,1.5,0.1,-1.6,0.8]],[-0.1,[-0.2,0.6,1.3,-0.9,0.2,-1.4,2.0,0.4,-0.5]],[0.0,[0.7,-0.4,1.0,-1.2,0.3,1.7,-0.1,-1.8]],
[0.1,[0.2,1.2,-0.7,0.5,-1.1,0.9,-0.2,1.9]],[0.2,[0.9,-0.3,0.1,-1.5,1.4,0.6,-0.8,0.3]],[0.3,[-0.1,0.7,1.1,-0.6,0.4,-1.3,1.8,-0.2]],[0.4,[0.5,-0.9,1.5,0.0,-0.4,0.9,-1.6,0.2]],
[0.5,[1.2,0.3,-0.5,0.7,-1.2,1.7,-0.1]],[0.6,[0.1,0.9,-0.8,1.3,0.4,-1.5,-0.3]],[0.7,[0.7,-0.2,1.0,-1.0,0.3,1.6,-0.6]],[0.8,[1.3,0.2,-0.4,0.8,-1.3,0.0,0.5,-1.7]],
[0.9,[0.4,-0.7,1.1,-0.1,1.5,-1.1,0.7]],[1.0,[0.9,0.0,-0.5,0.5,-1.4,1.3,0.2]],[1.1,[0.3,1.0,-0.9,0.6,-0.2,1.6,-1.2]],[1.2,[1.2,-0.4,0.4,-1.1,0.8,0.0,-0.7]],
[1.3,[0.1,0.7,-0.6,1.4,-1.3,0.4,-0.1]],[1.4,[0.8,-0.3,0.2,1.1,-1.0,0.5,-1.5]],[1.5,[0.4,-0.8,1.3,0.0,0.7,-0.4]],[1.6,[1.0,0.2,-0.5,0.6,-1.2,1.4]],
[1.7,[0.0,0.8,-0.2,1.2,-0.9,0.4]],[1.8,[0.6,-0.6,0.2,1.0,-1.3,-0.1]],[1.9,[0.3,1.2,-0.4,0.8,-1.0]],[2.0,[0.9,-0.2,0.5,-0.8,0.1,1.3]],
[2.1,[0.2,-0.6,0.7,-1.2,1.0]],[2.2,[0.6,0.0,-0.4,1.1,-0.9]],[2.3,[-0.2,0.4,0.9,-0.7]],[2.4,[0.5,-0.5,0.1,1.0]],
[2.5,[0.2,-0.3,0.7,-0.9]],[2.6,[0.4,-0.6]],[2.7,[0.0,0.5]],[2.8,[-0.3]]
];
const oc3rFill = [
[-3.45,[0.1,-0.3]],[-3.35,[0.4,-0.1,-0.6]],[-3.25,[0.1,-0.4,0.6]],[-3.15,[-0.2,0.5,0.0,-0.7]],[-3.05,[0.3,-0.5,0.8,0.0]],[-2.95,[0.6,-0.2,0.2,-0.8]],[-2.85,[0.0,0.9,-0.5,0.4]],[-2.75,[0.5,-0.8,0.2,1.0,-0.2]],[-2.65,[-0.4,0.3,0.8,-0.9,0.1]],[-2.55,[0.7,-0.3,0.3,1.1,-0.6]],
[-2.45,[0.2,-1.0,0.6,-0.2,1.0]],[-2.35,[0.6,-0.5,1.2,0.1,-0.8]],[-2.25,[-0.1,0.8,-0.6,0.4,1.1]],[-2.15,[0.5,-0.2,1.0,-1.0,0.2]],[-2.05,[0.0,1.2,-0.7,0.6,-0.3]],[-1.95,[0.7,-0.4,0.3,1.1,-1.1]],[-1.85,[0.2,1.3,-0.9,0.5,-0.2]],[-1.75,[0.8,-0.6,0.0,1.1,0.4]],[-1.65,[0.4,-1.0,1.4,-0.3,0.8]],[-1.55,[1.0,0.2,-0.5,0.6,-1.2]],
[-1.45,[0.1,1.2,-0.8,0.5,-0.2,1.5]],[-1.35,[0.7,-0.4,1.0,-1.1,0.3]],[-1.25,[0.3,1.4,-0.6,0.8,0.0,-1.3]],[-1.15,[0.9,-0.2,0.5,-0.9,1.2,0.2]],[-1.05,[0.4,1.1,-0.4,0.7,-1.3,1.6]],[-0.95,[1.0,-0.6,0.2,1.4,-0.1,-1.1]],[-0.85,[0.4,1.2,-0.8,0.8,-0.3,0.0]],[-0.75,[0.9,-0.5,1.4,0.2,-1.2,0.5]],[-0.65,[0.1,1.0,-0.2,0.6,-0.9,1.6]],[-0.55,[0.7,-1.1,1.2,0.3,-0.4,0.0]],
[-0.45,[0.4,1.4,-0.7,0.9,-0.1,-1.3]],[-0.35,[1.0,-0.4,0.6,1.6,-1.0,0.2]],[-0.25,[0.3,1.2,-0.2,0.8,-1.2,0.0]],[-0.15,[0.9,-0.7,0.5,1.5,-0.3,0.1]],[-0.05,[0.4,1.2,-1.0,0.7,-0.2,1.6]],[0.05,[1.0,0.1,-0.5,0.5,-1.3,1.4]],[0.15,[0.4,-0.9,1.2,0.0,0.7,-0.3]],[0.25,[1.0,0.2,-0.6,1.5,0.5,-1.1]],[0.35,[0.3,1.3,-0.4,0.8,-0.9,0.0]],[0.45,[0.8,-0.2,1.1,-1.2,0.4,1.5]],
[0.55,[0.2,0.9,-0.7,0.5,-0.3,1.2]],[0.65,[0.9,-1.0,0.4,1.4,0.0,-0.5]],[0.75,[0.4,1.1,-0.3,0.8,-1.2,0.1]],[0.85,[1.0,-0.6,0.6,0.2,1.3,-0.2]],[0.95,[0.3,-0.9,1.0,0.5,-0.4]],[1.05,[0.7,-0.2,1.2,0.1,-1.1]],[1.15,[0.1,0.9,-0.6,0.5,1.3]],[1.25,[0.8,-0.3,0.3,-1.0,1.1]],[1.35,[0.4,1.0,-0.8,0.0,0.6]],[1.45,[1.0,-0.1,0.5,-0.6,1.3]],
[1.55,[0.2,0.8,-1.0,0.4,-0.3]],[1.65,[0.6,-0.5,1.1,0.0]],[1.75,[0.3,-0.2,0.9,-0.8]],[1.85,[0.8,0.1,-0.5,1.1]],[1.95,[0.0,0.6,-0.9,0.3]],[2.05,[0.5,-0.4,1.0,0.1]],[2.15,[0.2,-0.8,0.7]],[2.25,[0.6,-0.2,0.3]],[2.35,[0.0,0.5]],[2.45,[-0.4,0.3]]
];

// sparse points outside the dense cloud: x, y pairs
const ocgOut = [-0.33,3.54,-0.3,3.15,-0.3,3.07,-0.81,3.04,-0.22,2.84,-0.33,2.6,-0.14,2.6,0.0,2.45,-1.9,2.6,-2.13,2.48,-1.5,2.55,-2.65,2.34,1.08,2.5,1.75,2.38,1.85,2.42,2.25,2.18,1.25,2.22,1.38,2.22,2.97,1.47,3.19,0.97,2.3,1.38,1.91,1.37,-3.57,0.52,-3.2,0.9,-3.06,1.83,-2.8,2.12,
-3.69,-1.08,-3.69,-1.14,-3.75,-1.05,-3.65,-1.82,-3.3,-1.64,-3.0,-1.82,-2.86,-2.45,-2.38,-2.1,-2.25,-3.17,-2.15,-3.69,-1.45,-3.41,-1.4,-2.97,-1.61,-2.43,-1.39,-2.5,-1.16,-2.26,-0.97,-2.29,-0.87,-2.47,-0.81,-2.64,-0.93,-2.73,-0.74,-2.93,0.2,-3.11,1.05,-2.79,1.14,-2.95,1.31,-2.43,1.95,-2.52,2.62,-2.95,2.97,-1.97,2.43,-2.06,2.59,-2.03,1.82,-2.2,2.2,-2.16,2.72,-1.13,2.3,-1.14,0.5,-2.15,0.35,-2.09,0.03,-2.06,-0.2,-2.09,-0.45,-1.9,-0.37,-2.0,-1.9,-1.86,-1.75,-1.93,1.1,-1.99,1.4,-1.9];
const oc2Out = [3.09,4.42,2.29,4.18,-1.13,3.24,-0.37,3.13,1.22,3.14,0.26,2.95,2.09,2.96,2.38,2.9,2.42,2.65,1.0,2.56,1.25,2.35,-2.09,2.4,-2.09,1.91,-0.77,2.44,-0.52,2.33,-0.48,2.17,2.96,2.38,3.09,2.33,3.57,2.1,3.82,1.87,4.19,0.3,3.32,1.83,-2.71,1.14,-3.7,0.5,-3.5,0.4,-2.4,1.31,-1.98,1.26,-1.7,1.87,-1.44,1.93,-0.27,1.93,0.17,2.02,1.47,1.85,1.85,1.93,2.4,1.85,2.56,2.02,2.8,1.8,2.9,1.37,3.2,1.15,3.5,0.74,-2.25,1.5,
2.93,-0.53,2.98,-0.56,2.98,-1.12,2.6,-0.56,-3.19,-1.14,-3.0,-1.68,-3.3,-0.78,-3.05,-0.93,-2.13,-2.2,-1.1,-2.03,-0.84,-3.01,-0.64,-2.78,-0.26,-2.68,0.13,-2.93,0.09,-2.18,0.1,-2.08,0.13,-1.9,0.26,-1.89,0.87,-2.26,-2.1,-1.6,-1.7,-1.8,-1.45,-1.62,1.27,-1.7,1.8,-1.62,0.92,-1.7,0.95,-1.62,1.85,-1.5,1.92,-1.35];
const oc3Out = [3.07,4.42,2.3,4.26,-1.13,3.28,-0.39,3.07,1.2,3.19,0.23,2.9,2.1,3.05,2.39,2.96,2.42,2.72,1.0,2.61,1.23,2.4,-2.1,2.4,-2.1,1.91,-0.8,2.43,-0.7,2.29,-0.5,2.12,2.96,2.39,3.06,2.32,3.5,2.04,3.75,1.77,3.78,1.6,-2.71,1.14,-3.7,0.5,-3.5,0.44,4.2,0.08,3.72,-0.09,-2.4,1.41,-2.0,1.53,-1.9,1.65,-0.1,2.0,0.28,1.98,1.33,1.92,1.69,2.03,2.33,1.85,2.59,1.86,3.07,1.81,2.65,1.54,3.0,1.1,3.2,1.06,
-0.84,-3.58,-0.68,-3.0,-0.29,-2.73,0.11,-2.96,0.84,-2.73,0.97,-2.65,0.18,-2.46,0.29,-2.28,0.1,-2.19,0.01,-2.05,0.14,-1.95,-2.13,-2.19,-1.13,-2.07,-1.6,-1.81,-1.4,-1.75,-3.0,-1.72,-3.2,-1.18,-3.07,-1.06,-2.2,-1.53,-2.1,-1.49,0.81,-1.95,1.2,-1.57,1.37,-1.45,1.69,-1.44,1.93,-1.44,2.01,-1.29,3.1,-1.1,3.15,-0.55,3.07,-0.3,3.71,-0.1];
const oc2rOut = [0.06,4.53,-1.39,4.37,-0.87,4.31,-0.35,4.15,0.39,3.6,-0.06,3.42,-0.03,3.25,0.0,3.08,0.13,3.03,-1.15,3.12,-2.16,2.89,-0.87,2.74,1.0,2.72,1.35,2.75,1.9,2.78,2.96,2.85,-0.6,2.62,-0.24,2.64,-0.24,2.44,0.08,2.38,0.6,2.46,1.44,2.3,1.3,2.6,1.9,2.6,-1.15,2.55,-1.3,2.46,-0.9,2.3,-3.06,2.01,-1.7,2.17,3.93,1.83,3.58,1.82,3.0,2.0,3.03,1.84,2.68,1.74,-3.06,1.37,-2.61,1.38,-2.06,1.32,-1.84,1.55,-3.22,0.97,-3.1,1.18,1.97,1.9,1.82,2.0,
-4.22,-1.57,-3.83,-1.38,-2.13,-2.68,-2.13,-3.48,-1.71,-2.36,-1.26,-2.58,-0.81,-2.72,-0.68,-2.52,-0.58,-3.02,-0.68,-3.25,-0.81,-3.43,-1.1,-4.67,-0.45,-4.43,0.19,-4.15,1.26,-4.35,1.0,-3.55,1.29,-3.19,2.5,-3.15,2.5,-3.54,2.21,-3.79,2.35,-5.47,3.06,-5.26,0.42,-2.73,0.77,-2.51,0.9,-2.53,-0.07,-2.6,0.31,-2.47,1.55,-2.3,1.95,-2.28,2.5,-1.83,3.05,-2.13,2.88,-1.65,2.9,-1.72,3.22,-1.34,3.54,-0.7,3.6,-0.93,3.45,-1.55,-2.1,-1.86,-1.7,-1.87,-2.7,-1.6];
const oc3rOut = [-1.29,4.95,-0.03,4.34,-0.87,4.25,0.23,4.05,-0.42,3.93,-0.23,3.85,-0.65,3.5,-0.55,3.44,-0.55,3.23,-0.16,3.07,-1.19,2.92,-1.9,2.77,-2.9,2.23,0.0,2.93,0.07,2.88,0.16,2.82,0.44,2.81,0.82,2.65,1.08,2.69,1.53,2.73,2.27,2.73,-1.58,2.29,-1.58,2.44,-1.29,2.56,2.76,1.66,2.89,1.66,2.27,1.93,2.27,1.76,2.14,1.66,1.6,1.82,1.39,2.03,0.97,1.97,-3.09,1.52,-3.03,1.4,-3.94,0.79,-3.38,0.97,-3.48,0.6,-1.58,1.74,-2.42,1.52,-2.35,1.18,2.83,0.3,2.6,0.6,
1.84,-5.27,2.34,-5.13,-1.09,-4.74,-0.51,-4.38,0.08,-4.04,0.96,-4.17,-2.1,-3.45,-2.03,-2.85,-0.84,-3.5,-0.71,-3.3,-0.61,-3.06,0.8,-3.4,0.99,-3.03,1.92,-3.03,1.92,-3.39,1.7,-3.62,-1.32,-2.46,-1.23,-2.26,-0.91,-2.26,-0.71,-2.66,-0.84,-2.74,-0.23,-2.6,0.0,-2.48,0.26,-2.69,0.45,-2.26,0.65,-2.44,-1.36,-2.13,1.21,-2.2,1.5,-2.2,2.24,-2.28,2.34,-2.13,-3.1,-1.48,-2.55,-1.56,-3.9,-0.76,-3.57,-0.76,-4.25,-0.25,-3.64,-0.52,2.6,-1.5,2.7,-0.93,2.48,-1.26,2.74,-0.72,2.2,-1.63,2.2,-1.78];

// smooth fits
const ocgFitX  = [-3.82, -2, 0, 2, 3.2];
const ocgFitY  = [0.01, 0.0, 0.0, 0.0, 0.0];
const oc2FitX  = [-4.15, -2.71, -1.42, -0.77, 0.03, 0.68, 1.32, 1.97, 2.61, 3.25, 3.9, 4.19];
const oc2FitY  = [-0.09, -0.05, 0.0, 0.12, 0.25, 0.23, 0.21, 0.37, 0.64, 0.98, 1.33, 1.47];
const oc3FitX  = [-4.16, -2.58, -1.13, -0.16, 0.81, 1.45, 2.1, 2.75, 3.39, 4.15];
const oc3FitY  = [-0.09, -0.05, 0.03, 0.09, 0.18, 0.29, 0.48, 0.73, 0.96, 1.17];
const oc2rFitX = [-4.19, -3.83, -3.35, -2.87, -2.22, -1.42, -0.77, 0.03, 0.84, 1.64, 2.45, 3.25, 3.9];
const oc2rFitY = [-0.74, -0.51, -0.24, -0.05, 0.03, 0.1, 0.03, -0.09, -0.03, 0.1, 0.14, 0.1, 0.04];
const oc3rFitX = [-4.12, -2.58, -0.97, 0.16, 0.65, 1.45, 2.86];
const oc3rFitY = [-0.01, -0.03, -0.07, -0.06, 0.0, 0.06, 0.18];

const xDomain = [-4.58, 4.56];
const yDomain = [-5.97, 5.45];

// ---------------- LAYOUT ----------------
const panelLeft0 = 68.3, panelStep = 202.5, panelW = 190;
const panelTop = 42.3, panelBottom = 539;

const colsList = [ocgCols, oc2Cols, oc3Cols, oc2rCols, oc3rCols];
const fillList = [ocgFill, oc2Fill, oc3Fill, oc2rFill, oc3rFill];
const outList = [ocgOut, oc2Out, oc3Out, oc2rOut, oc3rOut];
const fitX = [ocgFitX, oc2FitX, oc3FitX, oc2rFitX, oc3rFitX];
const fitY = [ocgFitY, oc2FitY, oc3FitY, oc2rFitY, oc3rFitY];

const svg = d3.select("#chart");
const y = d3.scaleLinear().domain(yDomain).range([panelBottom, panelTop]);
const tickFont = "Liberation Sans, Arial, sans-serif";

categories.forEach((cat, i) => {
  const left = panelLeft0 + i * panelStep;
  const x = d3.scaleLinear().domain(xDomain).range([left, left + panelW]);

  const expand = cols => cols.flatMap(([xv, ys]) => ys.map(yv => [xv, yv]));
  const pts = expand(colsList[i]).concat(expand(fillList[i]));
  const out = outList[i];
  for (let k = 0; k < out.length; k += 2) pts.push([out[k], out[k + 1]]);

  const g = svg.append("g");
  g.selectAll("circle").data(pts).join("circle")
    .attr("cx", d => x(d[0])).attr("cy", d => y(d[1]))
    .attr("r", 2.2).attr("fill", "#cccccc");

  const fit = fitX[i].map((xv, k) => [xv, fitY[i][k]]);
  g.append("path").datum(fit)
    .attr("fill", "none").attr("stroke", lineColors[i])
    .attr("stroke-width", i === 0 ? 4.5 : 4).attr("stroke-linecap", "butt")
    .attr("d", d3.line().x(d => x(d[0])).y(d => y(d[1])).curve(d3.curveMonotoneX));

  g.append("line")
    .attr("x1", left).attr("x2", left + panelW)
    .attr("y1", y(0)).attr("y2", y(0))
    .attr("stroke", "#000").attr("stroke-width", 1.8).attr("stroke-dasharray", "8,6");

  g.append("rect")
    .attr("x", left).attr("y", panelTop).attr("width", panelW).attr("height", panelBottom - panelTop)
    .attr("fill", "none").attr("stroke", "#333").attr("stroke-width", 1.1);

  svg.append("text").attr("x", left + panelW / 2).attr("y", 31)
    .attr("text-anchor", "middle").attr("font-size", 21).attr("fill", "#1a1a1a").text(cat);

  const xa = svg.append("g").attr("transform", `translate(0,${panelBottom})`)
    .call(d3.axisBottom(x).tickValues(xTickValues).tickSize(5)
      .tickFormat((d, k) => xTickLabels[k]));
  xa.select(".domain").remove();
  xa.selectAll("line").attr("stroke", "#333").attr("stroke-width", 1.1);
  xa.selectAll("text").attr("y", 26).attr("dy", null).attr("font-size", 17.5)
    .attr("fill", "#4d4d4d").attr("font-family", tickFont);
});

// y axis on the first panel
const ya = svg.append("g").attr("transform", `translate(${panelLeft0},0)`)
  .call(d3.axisLeft(y).tickValues(yTickValues).tickSize(5).tickPadding(6)
    .tickFormat((d, k) => yTickLabels[k]));
ya.select(".domain").remove();
ya.selectAll("line").attr("stroke", "#333").attr("stroke-width", 1.1);
ya.selectAll("text").attr("font-size", 17.5).attr("fill", "#4d4d4d").attr("font-family", tickFont);

svg.append("text")
  .attr("transform", `translate(31.5,281) rotate(-90)`)
  .attr("text-anchor", "middle").attr("font-size", 22).attr("fill", "#000").text(yTitle);

svg.append("text").attr("x", 568).attr("y", 590)
  .attr("text-anchor", "middle").attr("font-size", 23).attr("fill", "#000").text(xTitle);
</script>
</body>
</html>
